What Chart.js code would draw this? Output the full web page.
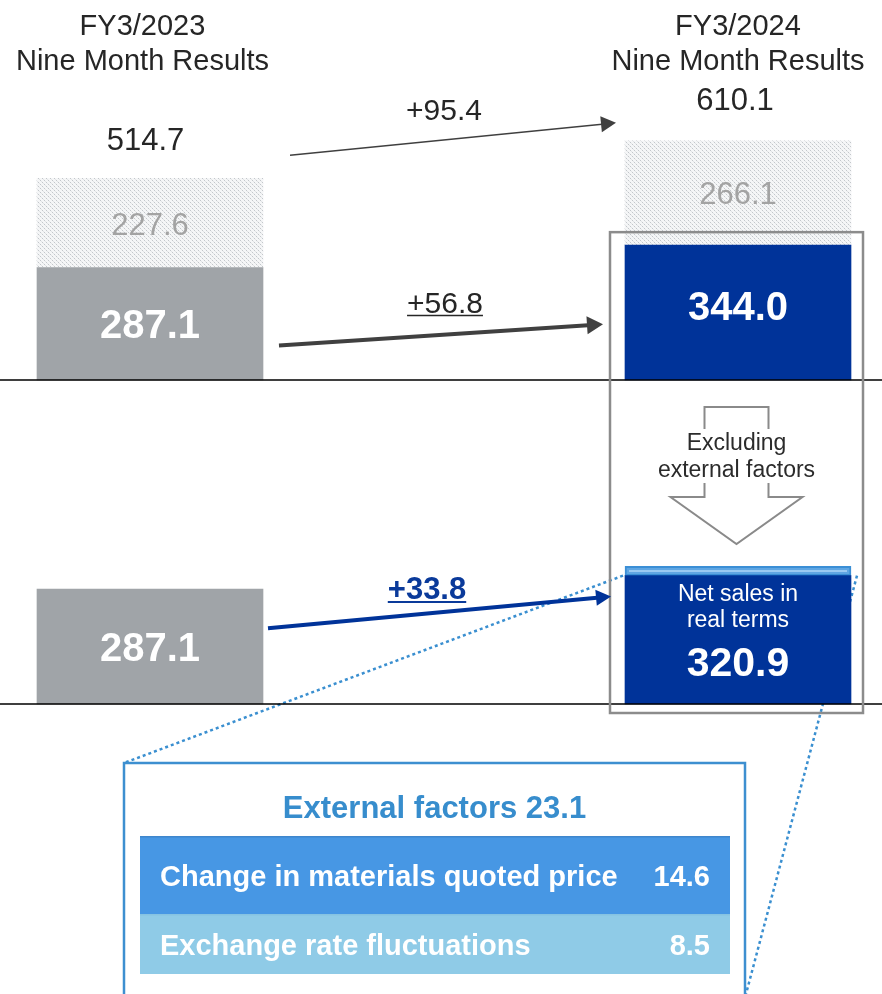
<!DOCTYPE html>
<html>
<head>
<meta charset="utf-8">
<script src="https://cdn.jsdelivr.net/npm/chart.js@4"></script>
<style>
  html, body { margin: 0; padding: 0; background: #ffffff; }
  canvas { display: block; }
</style>
</head>
<body>
<canvas id="sales" width="882" height="994"></canvas>
<script>
// Net sales, nine-month results (billions of yen)
const periods = ['FY3/2023', 'FY3/2024'];
const periodSubtitle = 'Nine Month Results';
const coreSales = [287.1, 344.0];       // sales excluding materials
const materialSales = [227.6, 266.1];   // materials portion
const totalSales = [514.7, 610.1];
const realSales = [287.1, 320.9];       // net sales in real terms
const externalSales = [null, 23.1];     // external factors on top of real sales
const changeLabels = ['+95.4', '+56.8', '+33.8'];
const factorNames = ['Change in materials quoted price', 'Exchange rate fluctuations'];
const factorValues = [14.6, 8.5];
const externalTitle = 'External factors';
const excludingText = ['Excluding', 'external factors'];
const realTermsText = ['Net sales in', 'real terms'];

const FONT = '"Liberation Sans", Arial, Helvetica, sans-serif';
const GREY_BAR = '#a0a4a8';
const NAVY = '#003399';
const SKY = '#3a8fd0';

const canvas = document.getElementById('sales');
const ctx0 = canvas.getContext('2d');

// fine dotted fill for the materials segments
function dotPattern() {
  const t = document.createElement('canvas');
  t.width = 4; t.height = 4;
  const g = t.getContext('2d');
  g.fillStyle = '#f5f6f7';
  g.fillRect(0, 0, 4, 4);
  g.fillStyle = '#c3c7cb';
  g.fillRect(0, 0, 1, 1);
  g.fillRect(2, 2, 1, 1);
  g.fillStyle = '#e2e4e6';
  g.fillRect(1, 1, 1, 1);
  g.fillRect(3, 3, 1, 1);
  return ctx0.createPattern(t, 'repeat');
}

// text placed by the vertical centre of its capitals
function capText(ctx, str, x, yc, size, weight, color, align) {
  ctx.font = `${weight} ${size}px ${FONT}`;
  ctx.fillStyle = color;
  ctx.textAlign = align || 'center';
  ctx.textBaseline = 'alphabetic';
  ctx.fillText(str, x, yc + size * 0.358);
  return ctx.measureText(str).width;
}

function arrow(ctx, x1, y1, x2, y2, lw, color, headLen, headHalf) {
  const a = Math.atan2(y2 - y1, x2 - x1);
  const bx = x2 - headLen * Math.cos(a), by = y2 - headLen * Math.sin(a);
  ctx.strokeStyle = color;
  ctx.fillStyle = color;
  ctx.lineWidth = lw;
  ctx.lineCap = 'butt';
  ctx.beginPath();
  ctx.moveTo(x1, y1);
  ctx.lineTo(bx + Math.cos(a), by + Math.sin(a));
  ctx.stroke();
  ctx.beginPath();
  ctx.moveTo(x2, y2);
  ctx.lineTo(bx + headHalf * Math.sin(a), by - headHalf * Math.cos(a));
  ctx.lineTo(bx - headHalf * Math.sin(a), by + headHalf * Math.cos(a));
  ctx.closePath();
  ctx.fill();
}

function geometry(chart) {
  const bars = chart.getDatasetMeta(0).data;
  return {
    xL: bars[0].x,
    xR: bars[1].x,
    half: bars[1].width / 2,
    yT: v => chart.scales.yTop.getPixelForValue(v),
    yB: v => chart.scales.yBot.getPixelForValue(v)
  };
}

// external factors panel
const PANEL = { left: 124, right: 745, top: 763 };

const overlay = {
  id: 'overlay',
  beforeDatasetsDraw(chart) {
    const ctx = chart.ctx;
    const { xR, half, yB } = geometry(chart);
    const stripBase = yB(realSales[1]);
    ctx.save();
    ctx.strokeStyle = SKY;
    ctx.lineWidth = 2.5;
    ctx.setLineDash([3, 3]);
    ctx.beginPath();
    ctx.moveTo(xR - half - 2, stripBase);
    ctx.lineTo(PANEL.left, PANEL.top);
    ctx.moveTo(xR + half + 6, stripBase);
    ctx.lineTo(PANEL.right + 1, 994);
    ctx.stroke();
    ctx.restore();
  },
  afterDatasetsDraw(chart) {
    const ctx = chart.ctx;
    const { xL, xR, half, yT, yB } = geometry(chart);
    ctx.save();

    // panel base lines
    ctx.strokeStyle = '#000000';
    ctx.lineWidth = 1.3;
    ctx.beginPath();
    ctx.moveTo(0, yT(0)); ctx.lineTo(882, yT(0));
    ctx.moveTo(0, yB(0)); ctx.lineTo(882, yB(0));
    ctx.stroke();

    // frame around the FY3/2024 breakdown
    ctx.strokeStyle = '#8c8c8c';
    ctx.lineWidth = 2.5;
    ctx.strokeRect(xR - half - 15, yT(coreSales[1]) - 13, 2 * half + 27, yB(0) + 9 - (yT(coreSales[1]) - 13));

    // hollow down arrow
    const ax = xR - 1.5, shaft = 32, head = 66;
    const aTop = 407, aSh = 497, aTip = 544;
    ctx.beginPath();
    ctx.moveTo(ax - shaft, aTop);
    ctx.lineTo(ax + shaft, aTop);
    ctx.lineTo(ax + shaft, aSh);
    ctx.lineTo(ax + head, aSh);
    ctx.lineTo(ax, aTip);
    ctx.lineTo(ax - head, aSh);
    ctx.lineTo(ax - shaft, aSh);
    ctx.closePath();
    ctx.fillStyle = '#ffffff';
    ctx.fill();
    ctx.strokeStyle = '#8a8a8a';
    ctx.lineWidth = 2;
    ctx.stroke();
    ctx.fillStyle = '#ffffff';
    ctx.fillRect(ax - 88, 429, 176, 54);
    capText(ctx, excludingText[0], ax, 442, 23, 'normal', '#2b2b2b');
    capText(ctx, excludingText[1], ax, 468.5, 23, 'normal', '#2b2b2b');

    // change arrows
    arrow(ctx, xL + 140, yT(totalSales[0]) - 23, xR - 122, yT(totalSales[1]) - 18, 1.5, '#404040', 15, 8);
    capText(ctx, changeLabels[0], 444, 109, 30, 'normal', '#262626');

    arrow(ctx, xL + 129, yT(coreSales[0]) + 78, xR - 135, yT(coreSales[1]) + 79, 4, '#404040', 16, 9);
    const w2 = capText(ctx, changeLabels[1], 445, 302, 30, 'normal', '#262626');
    ctx.strokeStyle = '#262626';
    ctx.lineWidth = 1.5;
    ctx.beginPath();
    ctx.moveTo(445 - w2 / 2, 315.5); ctx.lineTo(445 + w2 / 2, 315.5);
    ctx.stroke();

    const top2024 = yB(realSales[1] + externalSales[1]);
    arrow(ctx, xL + 118, yB(realSales[0]) + 39, xR - 127, top2024 + 30, 4, NAVY, 15, 8);
    const w3 = capText(ctx, changeLabels[2], 427, 588, 31, 'bold', '#0a3a9a');
    ctx.strokeStyle = '#0a3a9a';
    ctx.lineWidth = 2;
    ctx.beginPath();
    ctx.moveTo(427 - w3 / 2, 602); ctx.lineTo(427 + w3 / 2, 602);
    ctx.stroke();

    // thin highlight inside the external-factors strip
    const strip = chart.getDatasetMeta(3).data[1];
    ctx.fillStyle = 'rgba(170, 210, 245, 0.8)';
    ctx.fillRect(strip.x - strip.width / 2 + 4, (strip.y + strip.base) / 2 - 1, strip.width - 8, 2);

    // values inside the bars
    const mid = (ds, i) => {
      const el = chart.getDatasetMeta(ds).data[i];
      return (el.y + el.base) / 2;
    };
    capText(ctx, coreSales[0].toFixed(1), xL, mid(0, 0), 40, 'bold', '#ffffff');
    capText(ctx, coreSales[1].toFixed(1), xR, mid(0, 1) - 6.5, 40, 'bold', '#ffffff');
    capText(ctx, materialSales[0].toFixed(1), xL, mid(1, 0) + 1, 31, 'normal', '#a3a3a3');
    capText(ctx, materialSales[1].toFixed(1), xR, mid(1, 1), 31, 'normal', '#a3a3a3');
    capText(ctx, realSales[0].toFixed(1), xL, mid(2, 0), 40, 'bold', '#ffffff');
    const realTop = chart.getDatasetMeta(2).data[1].y;
    capText(ctx, realTermsText[0], xR, realTop + 17.5, 23, 'normal', '#ffffff');
    capText(ctx, realTermsText[1], xR, realTop + 43.5, 23, 'normal', '#ffffff');
    capText(ctx, realSales[1].toFixed(1), xR, realTop + 86, 41, 'bold', '#ffffff');

    // period headers and totals
    capText(ctx, periods[0], xL - 7.5, 25, 29, 'normal', '#262626');
    capText(ctx, periodSubtitle, xL - 7.5, 59.5, 29, 'normal', '#262626');
    capText(ctx, periods[1], xR, 25, 29, 'normal', '#262626');
    capText(ctx, periodSubtitle, xR, 59.5, 29, 'normal', '#262626');
    capText(ctx, totalSales[0].toFixed(1), xL - 4.5, yT(totalSales[0]) - 39, 31, 'normal', '#262626');
    capText(ctx, totalSales[1].toFixed(1), xR - 3, yT(totalSales[1]) - 42, 31, 'normal', '#262626');

    // external factors breakdown panel
    ctx.strokeStyle = '#3d8fd0';
    ctx.lineWidth = 2.5;
    ctx.strokeRect(PANEL.left, PANEL.top, PANEL.right - PANEL.left, 260);
    const cx = (PANEL.left + PANEL.right) / 2;
    capText(ctx, `${externalTitle} ${externalSales[1].toFixed(1)}`, cx, 806.5, 31, 'bold', '#378dcd');
    const rows = [
      { top: 836, bottom: 914, fill: '#4797e4', edge: '#3f86cc' },
      { top: 914, bottom: 974, fill: '#8fcbe7', edge: '#86c3e2' }
    ];
    rows.forEach((r, i) => {
      ctx.fillStyle = r.fill;
      ctx.fillRect(140, r.top, 590, r.bottom - r.top);
      ctx.fillStyle = r.edge;
      ctx.fillRect(140, r.top, 590, 1.5);
      const yc = (r.top + r.bottom) / 2 + 1;
      capText(ctx, factorNames[i], 160, yc, 29, 'bold', '#ffffff', 'left');
      capText(ctx, factorValues[i].toFixed(1), 710, yc, 29, 'bold', '#ffffff', 'right');
    });

    ctx.restore();
  }
};

const dots = dotPattern();

new Chart(canvas, {
  type: 'bar',
  data: {
    labels: periods,
    datasets: [
      { label: 'Excluding materials', data: coreSales, yAxisID: 'yTop',
        backgroundColor: [GREY_BAR, NAVY], clip: false },
      { label: 'Materials', data: materialSales, yAxisID: 'yTop',
        backgroundColor: dots, clip: false },
      { label: 'Real terms', data: realSales, yAxisID: 'yBot',
        backgroundColor: [GREY_BAR, NAVY], clip: false },
      { label: 'External factors', data: externalSales, yAxisID: 'yBot',
        backgroundColor: '#5fa6e3', borderColor: '#3b8fd6', borderWidth: 2,
        borderSkipped: false, clip: false }
    ]
  },
  options: {
    responsive: false,
    animation: false,
    devicePixelRatio: 1,
    layout: { padding: { left: 150, right: 144, top: 0, bottom: 290 } },
    datasets: { bar: { grouped: false, barThickness: 226, clip: false } },
    plugins: { legend: { display: false }, tooltip: { enabled: false } },
    events: [],
    scales: {
      x: { type: 'category', offset: false, display: false },
      yTop: { type: 'linear', position: 'left', stack: 'panels', stackWeight: 380, weight: 2,
              stacked: true, min: 0, max: 969.4, display: false },
      yBot: { type: 'linear', position: 'left', stack: 'panels', stackWeight: 324, weight: 1,
              stacked: true, min: 0, max: 810, display: false }
    }
  },
  plugins: [overlay]
});
</script>
</body>
</html>
